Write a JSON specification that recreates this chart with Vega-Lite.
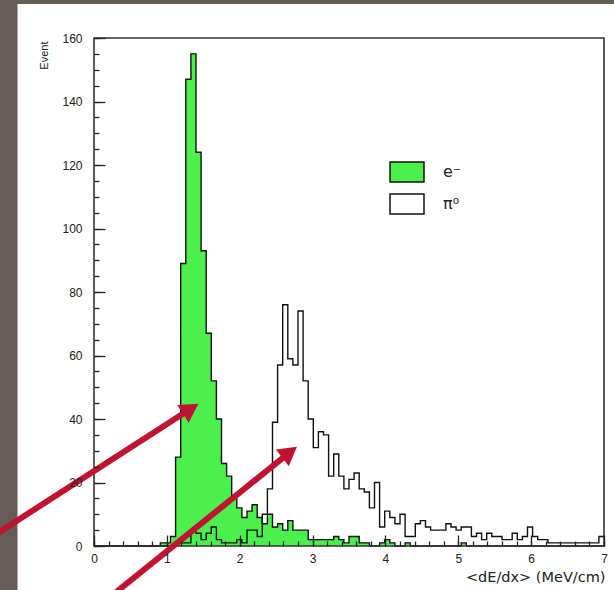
{
"$schema": "https://vega.github.io/schema/vega-lite/v6.json",
"width": 510, "height": 508,
"autosize": "none",
"padding": {"left": 94, "top": 38, "right": 10, "bottom": 44},
"background": "#655b57",
"config": {"view": {"stroke": null}},
"resolve": {"axis": {"x": "independent", "y": "independent"}},
"datasets": {
"h": [
{"x":0,"e":0,"p":0},{"x":0.07,"e":0,"p":0},{"x":0.14,"e":0,"p":0},{"x":0.21,"e":0,"p":0},{"x":0.28,"e":0,"p":0},{"x":0.35,"e":0,"p":0},{"x":0.42,"e":0,"p":0},{"x":0.49,"e":0,"p":0},{"x":0.56,"e":0,"p":0},{"x":0.63,"e":0,"p":0},
{"x":0.7,"e":0,"p":0},{"x":0.77,"e":0,"p":0},{"x":0.84,"e":0,"p":0},{"x":0.91,"e":1,"p":0},{"x":0.98,"e":1,"p":0},{"x":1.05,"e":3,"p":0},{"x":1.12,"e":28,"p":1},{"x":1.19,"e":89,"p":1},{"x":1.26,"e":147,"p":1},{"x":1.33,"e":155,"p":5},
{"x":1.4,"e":124,"p":4},{"x":1.47,"e":93,"p":2},{"x":1.54,"e":67,"p":4},{"x":1.61,"e":52,"p":6},{"x":1.68,"e":40,"p":2},{"x":1.75,"e":26,"p":1},{"x":1.82,"e":22,"p":1},{"x":1.89,"e":15,"p":1},{"x":1.96,"e":12,"p":2},{"x":2.03,"e":9,"p":1},
{"x":2.1,"e":11,"p":5},{"x":2.17,"e":13,"p":5},{"x":2.24,"e":9,"p":3},{"x":2.31,"e":7,"p":10},{"x":2.38,"e":10,"p":18},{"x":2.45,"e":6,"p":39},{"x":2.52,"e":7,"p":57},{"x":2.59,"e":5,"p":76},{"x":2.66,"e":8,"p":59},{"x":2.73,"e":5,"p":57},
{"x":2.8,"e":5,"p":74},{"x":2.87,"e":5,"p":52},{"x":2.94,"e":2,"p":40},{"x":3.01,"e":2,"p":31},{"x":3.08,"e":2,"p":36},{"x":3.15,"e":2,"p":35},{"x":3.22,"e":2,"p":22},{"x":3.29,"e":3,"p":29},{"x":3.36,"e":2,"p":22},{"x":3.43,"e":1,"p":18},
{"x":3.5,"e":3,"p":21},{"x":3.57,"e":3,"p":23},{"x":3.64,"e":1,"p":18},{"x":3.71,"e":1,"p":17},{"x":3.78,"e":0,"p":12},{"x":3.85,"e":0,"p":20},{"x":3.92,"e":1,"p":6},{"x":3.99,"e":2,"p":11},{"x":4.06,"e":1,"p":9},{"x":4.13,"e":0,"p":7},
{"x":4.2,"e":0,"p":10},{"x":4.27,"e":1,"p":3},{"x":4.34,"e":0,"p":3},{"x":4.41,"e":0,"p":7},{"x":4.48,"e":0,"p":8},{"x":4.55,"e":0,"p":6},{"x":4.62,"e":0,"p":5},{"x":4.69,"e":0,"p":5},{"x":4.76,"e":0,"p":5},{"x":4.83,"e":0,"p":7},
{"x":4.9,"e":0,"p":6},{"x":4.97,"e":0,"p":5},{"x":5.04,"e":1,"p":6},{"x":5.11,"e":0,"p":6},{"x":5.18,"e":0,"p":3},{"x":5.25,"e":0,"p":4},{"x":5.32,"e":0,"p":2},{"x":5.39,"e":0,"p":4},{"x":5.46,"e":0,"p":3},{"x":5.53,"e":0,"p":3},
{"x":5.6,"e":0,"p":2},{"x":5.67,"e":0,"p":2},{"x":5.74,"e":0,"p":4},{"x":5.81,"e":0,"p":2},{"x":5.88,"e":0,"p":3},{"x":5.95,"e":0,"p":6},{"x":6.02,"e":0,"p":3},{"x":6.09,"e":0,"p":2},{"x":6.16,"e":0,"p":2},{"x":6.23,"e":0,"p":1},
{"x":6.3,"e":0,"p":1},{"x":6.37,"e":0,"p":1},{"x":6.44,"e":0,"p":1},{"x":6.51,"e":0,"p":1},{"x":6.58,"e":0,"p":1},{"x":6.65,"e":0,"p":1},{"x":6.72,"e":0,"p":1},{"x":6.79,"e":0,"p":1},{"x":6.86,"e":0,"p":1},{"x":6.93,"e":0,"p":3},
{"x":7,"e":0,"p":3}
],
"arrows": [
{"id":1,"x":-1.427,"y":2.5,"x2":1.327,"y2":43.2},
{"id":2,"x":0.17,"y":-17.0,"x2":2.685,"y2":29.5}
]
},
"layer": [
{
"data": {"values": [{}]},
"mark": {"type": "rect", "fill": "white", "strokeWidth": 0},
"encoding": {
"x": {"datum": -1.05, "type": "quantitative", "scale": {"domain": [0,7], "nice": false, "zero": false},
 "axis": {"orient": "bottom", "title": null, "values": [0,0.2,0.4,0.6,0.8,1,1.2,1.4,1.6,1.8,2,2.2,2.4,2.6,2.8,3,3.2,3.4,3.6,3.8,4,4.2,4.4,4.6,4.8,5,5.2,5.4,5.6,5.8,6,6.2,6.4,6.6,6.8,7],
  "labels": false, "tickSize": -5, "tickColor": "#222", "tickWidth": 1.3, "domain": false, "grid": false, "zindex": 1}},
"x2": {"datum": 7.6},
"y": {"datum": -20, "type": "quantitative", "scale": {"domain": [0,160], "nice": false, "zero": false},
 "axis": {"orient": "left", "title": null, "values": [0,5,10,15,20,25,30,35,40,45,50,55,60,65,70,75,80,85,90,95,100,105,110,115,120,125,130,135,140,145,150,155,160],
  "labels": false, "tickSize": -5, "tickColor": "#222", "tickWidth": 1.3, "domain": false, "grid": false, "zindex": 1}},
"y2": {"datum": 170.7}
}
},
{
"data": {"name": "h"},
"mark": {"type": "area", "interpolate": "step-after", "opacity": 1},
"encoding": {
"x": {"field": "x", "type": "quantitative", "scale": {"domain": [0,7], "nice": false, "zero": false}, "axis": null},
"y": {"field": "p", "type": "quantitative", "scale": {"domain": [0,160], "nice": false, "zero": false}, "axis": null},
"fill": {"datum": "π⁰", "type": "nominal", "scale": {"domain": ["e⁻", "π⁰"], "range": ["#4cf04c", "#ffffff"]},
 "legend": {"orient": "none", "legendX": 295, "legendY": 116, "direction": "vertical", "title": null, "padding": 0,
  "symbolType": "M-1,-0.59H1V0.59H-1Z", "symbolSize": 1156, "symbolStrokeColor": "#111", "symbolStrokeWidth": 1.5, "symbolOpacity": 1,
  "labelFont": "DejaVu Sans", "labelFontSize": 16, "labelColor": "#222", "labelOffset": 18, "rowPadding": -1}}
}
},
{
"data": {"name": "h"},
"mark": {"type": "area", "interpolate": "step-after", "opacity": 1},
"encoding": {
"x": {"field": "x", "type": "quantitative", "scale": {"domain": [0,7], "nice": false, "zero": false}, "axis": null},
"y": {"field": "e", "type": "quantitative", "scale": {"domain": [0,160], "nice": false, "zero": false}, "axis": null},
"fill": {"datum": "e⁻", "type": "nominal"}
}
},
{
"data": {"name": "h"},
"mark": {"type": "line", "interpolate": "step-after", "color": "#111", "strokeWidth": 1.4},
"encoding": {
"x": {"field": "x", "type": "quantitative", "scale": {"domain": [0,7], "nice": false, "zero": false}, "axis": null},
"y": {"field": "e", "type": "quantitative", "scale": {"domain": [0,160], "nice": false, "zero": false}, "axis": null}
}
},
{
"data": {"name": "h"},
"mark": {"type": "line", "interpolate": "step-after", "color": "#111", "strokeWidth": 1.4},
"encoding": {
"x": {"field": "x", "type": "quantitative", "scale": {"domain": [0,7], "nice": false, "zero": false}, "axis": null},
"y": {"field": "p", "type": "quantitative", "scale": {"domain": [0,160], "nice": false, "zero": false}, "axis": null}
}
},
{
"data": {"values": [{}]},
"mark": {"type": "rect", "filled": false, "color": "#333", "strokeWidth": 1.6},
"encoding": {
"x": {"datum": 0, "type": "quantitative", "scale": {"domain": [0,7], "nice": false, "zero": false},
 "axis": {"orient": "bottom", "title": "<dE/dx>  (MeV/cm)", "values": [0,1,2,3,4,5,6,7], "format": "d",
  "tickSize": -11, "tickColor": "#222", "tickWidth": 1.3, "domain": false, "grid": false, "zindex": 1,
  "labelFont": "Liberation Sans", "labelFontSize": 12, "labelColor": "#222", "labelPadding": 18, "labelFlush": false, "labelOverlap": false,
  "titleFont": "DejaVu Sans", "titleFontSize": 14.5, "titleFontWeight": "normal", "titleColor": "#222", "titleAnchor": "end", "titleAlign": "right", "titleX": 511, "titleY": 35, "titleBaseline": "alphabetic"}},
"x2": {"datum": 7},
"y": {"datum": 0, "type": "quantitative", "scale": {"domain": [0,160], "nice": false, "zero": false},
 "axis": {"orient": "left", "title": "Event", "values": [0,20,40,60,80,100,120,140,160],
  "tickSize": -11, "tickColor": "#222", "tickWidth": 1.3, "domain": false, "grid": false, "zindex": 1,
  "labelFont": "Liberation Sans", "labelFontSize": 12, "labelColor": "#222", "labelPadding": 23, "labelFlush": false, "labelOverlap": false,
  "titleFont": "Liberation Sans", "titleFontSize": 11, "titleFontWeight": "normal", "titleColor": "#222", "titleAngle": 270, "titleAnchor": "end", "titleAlign": "right", "titleBaseline": "bottom", "titleX": -45, "titleY": 3}},
"y2": {"datum": 160}
}
},
{
"data": {"name": "arrows"},
"mark": {"type": "rule", "color": "#bf1332", "strokeWidth": 6},
"encoding": {
"x": {"field": "x", "type": "quantitative", "scale": {"domain": [0,7], "nice": false, "zero": false}, "axis": null},
"y": {"field": "y", "type": "quantitative", "scale": {"domain": [0,160], "nice": false, "zero": false}, "axis": null},
"x2": {"field": "x2"},
"y2": {"field": "y2"}
}
},
{
"data": {"name": "arrows"},
"transform": [{"filter": "datum.id === 1"}],
"mark": {"type": "point", "shape": "triangle-up", "filled": true, "size": 450, "color": "#bf1332", "opacity": 1, "angle": 57.2},
"encoding": {
"x": {"field": "x2", "type": "quantitative", "scale": {"domain": [0,7], "nice": false, "zero": false}, "axis": null},
"y": {"field": "y2", "type": "quantitative", "scale": {"domain": [0,160], "nice": false, "zero": false}, "axis": null}
}
},
{
"data": {"name": "arrows"},
"transform": [{"filter": "datum.id === 2"}],
"mark": {"type": "point", "shape": "triangle-up", "filled": true, "size": 450, "color": "#bf1332", "opacity": 1, "angle": 52.3},
"encoding": {
"x": {"field": "x2", "type": "quantitative", "scale": {"domain": [0,7], "nice": false, "zero": false}, "axis": null},
"y": {"field": "y2", "type": "quantitative", "scale": {"domain": [0,160], "nice": false, "zero": false}, "axis": null}
}
}
]
}
